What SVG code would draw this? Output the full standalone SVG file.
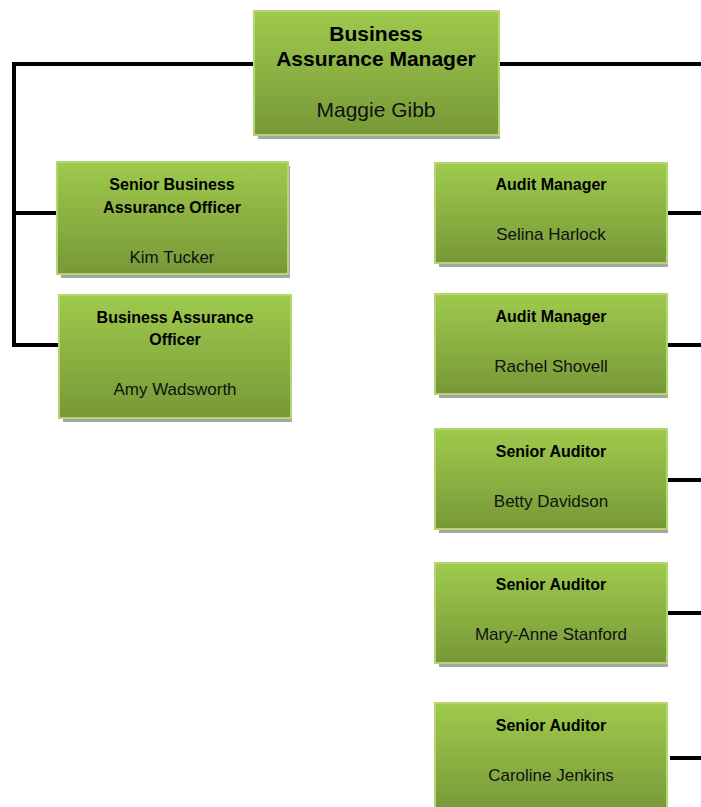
<svg xmlns="http://www.w3.org/2000/svg" width="701" height="807" viewBox="0 0 701 807">
<defs>
<linearGradient id="g" x1="0" y1="0" x2="0" y2="1">
<stop offset="0" stop-color="#9fca4c"/>
<stop offset="1" stop-color="#779838"/>
</linearGradient>
</defs>
<style>
.box{fill:url(#g);stroke:#b3d76e;stroke-width:2}
.sh{fill:#a6a6a6}
.t{font-family:"Liberation Sans",Arial,sans-serif;font-weight:bold;font-size:16px;text-anchor:middle;fill:#000}
.n{font-family:"Liberation Sans",Arial,sans-serif;font-size:17px;text-anchor:middle;fill:#111}
.tb{font-size:21px}
.c{fill:none;stroke:#000;stroke-width:4;stroke-linejoin:miter}
</style>
<rect width="701" height="807" fill="#fff"/>
<g id="connectors">
<path class="c" d="M254 64 H14 V345 H59"/>
<path class="c" d="M14 213 H58"/>
<path class="c" d="M499 64 H701"/>
<path class="c" d="M667 213 H701"/>
<path class="c" d="M667 345 H701"/>
<path class="c" d="M667 480 H701"/>
<path class="c" d="M667 613 H701"/>
<path class="c" d="M670 758 H701"/>
</g>
<g id="n0">
<rect class="sh" x="258" y="15" width="242" height="124"/>
<rect class="box" x="254" y="11" width="245" height="124"/>
<text class="t tb" x="376" y="41">Business</text>
<text class="t tb" x="376" y="66">Assurance Manager</text>
<text class="n tb" x="376" y="117">Maggie Gibb</text>
</g>
<g id="n1">
<rect class="sh" x="61" y="166" width="229" height="112"/>
<rect class="box" x="57" y="162" width="231" height="112"/>
<text class="t" x="172" y="190">Senior Business</text>
<text class="t" x="172" y="213">Assurance Officer</text>
<text class="n" x="172" y="263">Kim Tucker</text>
</g>
<g id="n2">
<rect class="sh" x="63" y="299" width="229" height="123"/>
<rect class="box" x="59" y="295" width="232" height="123"/>
<text class="t" x="175" y="323">Business Assurance</text>
<text class="t" x="175" y="345">Officer</text>
<text class="n" x="175" y="395">Amy Wadsworth</text>
</g>
<g id="n3">
<rect class="sh" x="439" y="167" width="229" height="100"/>
<rect class="box" x="435" y="163" width="232" height="100"/>
<text class="t" x="551" y="190">Audit Manager</text>
<text class="n" x="551" y="240">Selina Harlock</text>
</g>
<g id="n4">
<rect class="sh" x="439" y="298" width="229" height="100"/>
<rect class="box" x="435" y="294" width="232" height="100"/>
<text class="t" x="551" y="322">Audit Manager</text>
<text class="n" x="551" y="372">Rachel Shovell</text>
</g>
<g id="n5">
<rect class="sh" x="439" y="433" width="229" height="100"/>
<rect class="box" x="435" y="429" width="232" height="100"/>
<text class="t" x="551" y="457">Senior Auditor</text>
<text class="n" x="551" y="507">Betty Davidson</text>
</g>
<g id="n6">
<rect class="sh" x="439" y="567" width="229" height="100"/>
<rect class="box" x="435" y="563" width="232" height="100"/>
<text class="t" x="551" y="590">Senior Auditor</text>
<text class="n" x="551" y="640">Mary-Anne Stanford</text>
</g>
<g id="n7">
<rect class="sh" x="439" y="707" width="229" height="104"/>
<rect class="box" x="435" y="703" width="232" height="110"/>
<text class="t" x="551" y="731">Senior Auditor</text>
<text class="n" x="551" y="781">Caroline Jenkins</text>
</g>
</svg>
